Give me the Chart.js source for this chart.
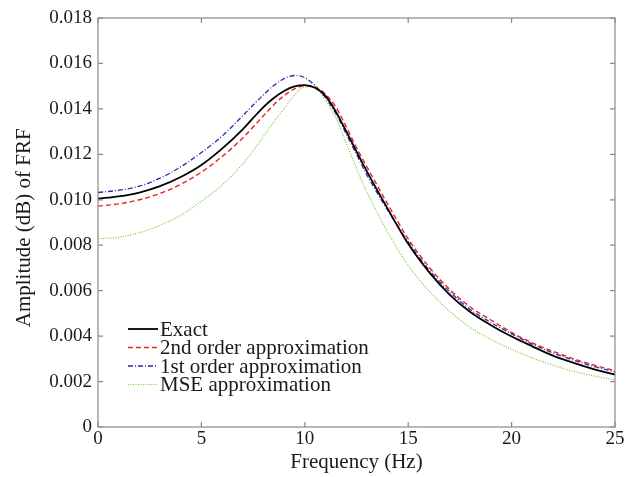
<!DOCTYPE html>
<html>
<head>
<meta charset="utf-8">
<script src="https://cdn.jsdelivr.net/npm/chart.js@4/dist/chart.umd.min.js"></script>
<style>
  html, body { margin: 0; padding: 0; background: #fff; }
  #wrap { width: 635px; height: 477px; }
</style>
</head>
<body>
<div id="wrap"><canvas id="c" width="635" height="477"></canvas></div>
<script>
const freq = [0,1,2,3,4,5,6,7,7.5,8,8.5,9,9.5,10,10.5,11,11.5,12,12.5,13,14,15,16,17,18,19,20,21,22,23,24,25];
const exact = [0.01005,0.01015,0.01032,0.01060,0.01100,0.01153,0.01225,0.01310,0.01360,0.01408,0.01448,0.01479,0.01499,0.01505,0.01493,0.01457,0.01388,0.01302,0.01213,0.01125,0.00962,0.00806,0.00683,0.00583,0.00506,0.00448,0.00398,0.00355,0.00314,0.00282,0.00254,0.00231];
const second = [0.00972,0.00982,0.01000,0.01028,0.01068,0.01122,0.01190,0.01272,0.01320,0.01370,0.01418,0.01458,0.01488,0.01502,0.01496,0.01465,0.01408,0.01322,0.01230,0.01145,0.00983,0.00828,0.00705,0.00606,0.00528,0.00471,0.00416,0.00370,0.00333,0.00300,0.00272,0.00248];
const first = [0.01032,0.01042,0.01060,0.01095,0.01145,0.01208,0.01280,0.01370,0.01417,0.01462,0.01503,0.01533,0.01547,0.01537,0.01502,0.01450,0.01380,0.01290,0.01200,0.01110,0.00955,0.00815,0.00692,0.00596,0.00517,0.00460,0.00410,0.00365,0.00326,0.00294,0.00266,0.00243];
const mse = [0.00828,0.00835,0.00855,0.00888,0.00932,0.00994,0.01065,0.01158,0.01215,0.01278,0.01342,0.01401,0.01460,0.01497,0.01490,0.01440,0.01360,0.01250,0.01138,0.01035,0.00858,0.00712,0.00600,0.00510,0.00438,0.00385,0.00342,0.00304,0.00272,0.00245,0.00224,0.00207];
const seriesNames = ["Exact","2nd order approximation","1st order approximation","MSE approximation"];
const xTicks = [0,5,10,15,20,25];
const yTicks = [0,0.002,0.004,0.006,0.008,0.010,0.012,0.014,0.016,0.018];

const FONT = "'Liberation Serif', 'Times New Roman', serif";
const pts = arr => freq.map((f,i)=>({x:f,y:arr[i]}));

const styles = [
  {color:'#000000', dash:[], width:1.8},
  {color:'#ee2020', dash:[5,3], width:1.4},
  {color:'#2a2ab0', dash:[5,2,1,2], width:1.3},
  {color:'#6ccc30', dash:[1,1.5], width:1.2}
];
const values = [exact, second, first, mse];

const datasets = values.map((v,i)=>({
  label: seriesNames[i],
  data: pts(v),
  borderColor: styles[i].color,
  borderDash: styles[i].dash,
  borderWidth: styles[i].width,
  pointRadius: 0,
  fill: false,
  tension: 0.4,
  cubicInterpolationMode: 'monotone',
  order: i
}));

const framePlugin = {
  id: 'frame',
  afterDatasetsDraw(chart) {
    const {ctx, chartArea:a, scales} = chart;
    ctx.save();
    ctx.strokeStyle = '#8a8a8a';
    ctx.lineWidth = 1.2;
    ctx.setLineDash([]);
    ctx.strokeRect(a.left, a.top, a.right - a.left, a.bottom - a.top);
    const tl = 5;
    ctx.beginPath();
    xTicks.forEach(v=>{
      const px = scales.x.getPixelForValue(v);
      ctx.moveTo(px, a.bottom); ctx.lineTo(px, a.bottom - tl);
      ctx.moveTo(px, a.top); ctx.lineTo(px, a.top + tl);
    });
    yTicks.forEach(v=>{
      const py = scales.y.getPixelForValue(v);
      ctx.moveTo(a.left, py); ctx.lineTo(a.left + tl, py);
      ctx.moveTo(a.right, py); ctx.lineTo(a.right - tl, py);
    });
    ctx.stroke();
    ctx.restore();
  },
  afterDraw(chart) {
    const {ctx} = chart;
    ctx.save();
    ctx.font = "21px " + FONT;
    ctx.textBaseline = 'middle';
    ctx.textAlign = 'left';
    const x0 = 128, x1 = 158, tx = 160;
    const rows = [329, 347.5, 366, 384.5];
    chart.data.datasets.forEach((d,i)=>{
      const y = rows[i];
      ctx.strokeStyle = d.borderColor;
      ctx.lineWidth = d.borderWidth;
      ctx.setLineDash(d.borderDash);
      ctx.beginPath(); ctx.moveTo(x0,y); ctx.lineTo(x1,y); ctx.stroke();
      ctx.setLineDash([]);
      ctx.fillStyle = '#1a1a1a';
      ctx.fillText(d.label, tx, y+1);
    });
    ctx.restore();
  }
};

new Chart(document.getElementById('c'), {
  type: 'line',
  data: { datasets },
  options: {
    responsive: false,
    animation: false,
    layout: { padding: { top: 18, right: 20, left: 0, bottom: 0 } },
    plugins: { legend: { display: false }, tooltip: { enabled: false } },
    scales: {
      x: {
        type: 'linear', min: 0, max: 25,
        afterBuildTicks: s => { s.ticks = xTicks.map(v=>({value:v})); },
        afterFit: s => { s.height = 50; },
        grid: { display: false, drawTicks: false },
        border: { display: false },
        ticks: { padding: 1, color: '#1a1a1a', font: { family: FONT, size: 19 }, maxRotation: 0,
                 callback: v => String(v) },
        title: { display: true, text: 'Frequency (Hz)', color: '#1a1a1a',
                 font: { family: FONT, size: 21 }, padding: { top: 0, bottom: 2 } }
      },
      y: {
        type: 'linear', min: 0, max: 0.018,
        afterBuildTicks: s => { s.ticks = yTicks.map(v=>({value:v})); },
        afterFit: s => { s.width = 98; },
        grid: { display: false, drawTicks: false },
        border: { display: false },
        ticks: { padding: 6, color: '#1a1a1a', font: { family: FONT, size: 19 },
                 callback: v => v === 0 ? '0' : v.toFixed(3) },
        title: { display: true, text: 'Amplitude (dB) of FRF\u00a0\u00a0', color: '#1a1a1a',
                 font: { family: FONT, size: 21 }, padding: { top: 12, bottom: 0 } }
      }
    }
  },
  plugins: [framePlugin]
});
</script>
</body>
</html>
